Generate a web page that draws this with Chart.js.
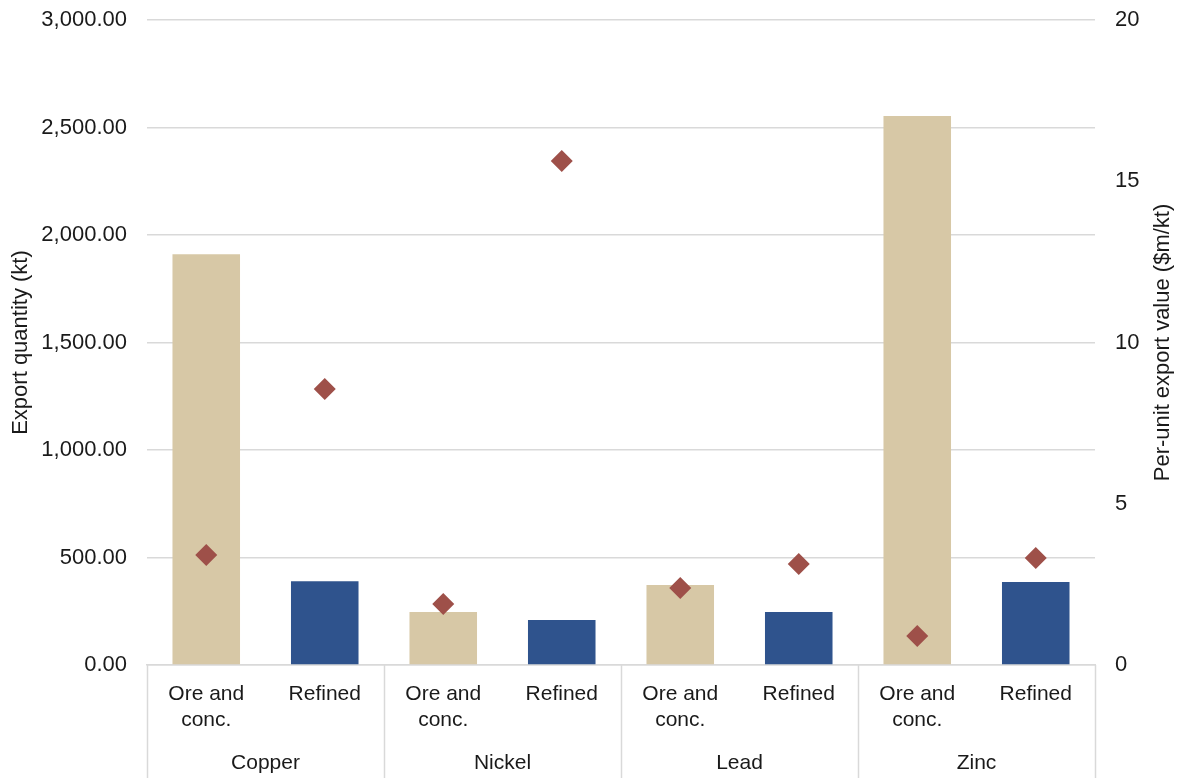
<!DOCTYPE html>
<html>
<head>
<meta charset="utf-8">
<script src="https://cdn.jsdelivr.net/npm/chart.js@4/dist/chart.umd.min.js"></script>
<style>
  html, body { margin: 0; padding: 0; background: #fff; }
  #wrap { width: 1179px; height: 778px; position: relative; }
</style>
</head>
<body>
<div id="wrap"><canvas id="chart"></canvas></div>
<script>
// metals (outer x level) and product form (inner x level)
const metals = ['Copper', 'Nickel', 'Lead', 'Zinc'];
const forms = [['Ore and', 'conc.'], 'Refined'];

// export quantity, kt (left axis)
const oreQuantity = [1910, 247, 372, 2553];
const refinedQuantity = [390, 209, 246, 386];

// per-unit export value, $m/kt (right axis)
const oreUnitValue = [3.41, 1.89, 2.39, 0.90];
const refinedUnitValue = [8.56, 15.63, 3.13, 3.32];

const leftTicks = [0, 500, 1000, 1500, 2000, 2500, 3000];
const rightTicks = [0, 5, 10, 15, 20];

// flatten metal x form into category slots
var labels = [];
var oreBars = [], refinedBars = [], unitValues = [];
metals.forEach(function (m, i) {
    labels.push(forms[0], forms[1]);
    oreBars.push(oreQuantity[i], null);
    refinedBars.push(null, refinedQuantity[i]);
    unitValues.push(oreUnitValue[i], refinedUnitValue[i]);
});

const FONT = "'Liberation Sans', Arial, Helvetica, sans-serif";
const TEXT = '#1a1a1a';
const GRID = '#d9d9d9';

// second x level: separators and metal names below the tick labels,
// plus the right axis title (reads bottom to top like the left one)
var groupAxis = {
    id: 'groupAxis',
    afterDraw: function (chart) {
        var ctx = chart.ctx;
        var xs = chart.scales.x;
        var step = xs.getPixelForValue(1) - xs.getPixelForValue(0);
        var top = chart.chartArea.bottom;
        var bottom = chart.height;
        ctx.save();
        ctx.strokeStyle = GRID;
        ctx.lineWidth = 1.5;
        for (var g = 0; g <= metals.length; g++) {
            var x = xs.getPixelForValue(g * 2) - step / 2;
            if (g === metals.length) x = xs.getPixelForValue(g * 2 - 1) + step / 2;
            ctx.beginPath();
            ctx.moveTo(Math.round(x) + 0.5, top);
            ctx.lineTo(Math.round(x) + 0.5, bottom);
            ctx.stroke();
        }
        ctx.fillStyle = TEXT;
        ctx.font = '21px ' + FONT;
        ctx.textAlign = 'center';
        ctx.textBaseline = 'middle';
        metals.forEach(function (m, i) {
            var cx = (xs.getPixelForValue(i * 2) + xs.getPixelForValue(i * 2 + 1)) / 2;
            ctx.fillText(m, cx, top + 98);
        });

        var y1 = chart.scales.y1;
        ctx.font = '22px ' + FONT;
        ctx.translate(y1.right - 16, (chart.chartArea.top + chart.chartArea.bottom) / 2);
        ctx.rotate(-Math.PI / 2);
        ctx.fillText('Per-unit export value ($m/kt)', 0, 0);
        ctx.restore();
    }
};

var config = {
    data: {
        labels: labels,
        datasets: [
            {
                type: 'line',
                label: 'Per-unit export value',
                data: unitValues,
                yAxisID: 'y1',
                showLine: false,
                pointStyle: 'rectRot',
                pointRadius: 11,
                pointHoverRadius: 11,
                pointBackgroundColor: '#9e5049',
                pointBorderColor: '#9e5049',
                pointBorderWidth: 0,
                order: 0
            },
            {
                type: 'bar',
                label: 'Ore and conc.',
                data: oreBars,
                backgroundColor: '#d7c8a6',
                yAxisID: 'y',
                skipNull: true,
                categoryPercentage: 1,
                barPercentage: 0.57,
                order: 1
            },
            {
                type: 'bar',
                label: 'Refined',
                data: refinedBars,
                backgroundColor: '#2f538d',
                yAxisID: 'y',
                skipNull: true,
                categoryPercentage: 1,
                barPercentage: 0.57,
                order: 1
            }
        ]
    },
    options: {
        responsive: true,
        maintainAspectRatio: false,
        animation: false,
        layout: {padding: {top: 20, right: 0, bottom: 0, left: 0}},
        plugins: {
            legend: {display: false},
            tooltip: {enabled: false}
        },
        scales: {
            x: {
                grid: {display: false},
                border: {display: true, color: GRID, width: 1.5},
                ticks: {
                    color: TEXT,
                    font: {family: FONT, size: 21, lineHeight: 1.25},
                    padding: 8,
                    maxRotation: 0,
                    autoSkip: false
                },
                afterFit: function (scale) { scale.height = 113; }
            },
            y: {
                position: 'left',
                min: 0,
                max: 3000,
                afterBuildTicks: function (scale) {
                    scale.ticks = leftTicks.map(function (v) { return {value: v}; });
                },
                grid: {color: GRID, lineWidth: 1.5, drawTicks: false},
                border: {display: false},
                ticks: {
                    color: TEXT,
                    font: {family: FONT, size: 22},
                    padding: 20,
                    callback: function (v) {
                        return Number(v).toLocaleString('en-US', {minimumFractionDigits: 2, maximumFractionDigits: 2});
                    }
                },
                title: {
                    display: true,
                    text: 'Export quantity (kt)',
                    color: TEXT,
                    font: {family: FONT, size: 22},
                    padding: {top: 8, bottom: 0}
                },
                afterFit: function (scale) {
                    scale.width = 147;
                    scale.paddingTop = 0;
                    scale.paddingBottom = 0;
                }
            },
            y1: {
                position: 'right',
                min: 0,
                max: 20,
                afterBuildTicks: function (scale) {
                    scale.ticks = rightTicks.map(function (v) { return {value: v}; });
                },
                grid: {display: false, drawTicks: false},
                border: {display: false},
                ticks: {
                    color: TEXT,
                    font: {family: FONT, size: 22},
                    padding: 20
                },
                afterFit: function (scale) {
                    scale.width = 84;
                    scale.paddingTop = 0;
                    scale.paddingBottom = 0;
                }
            }
        }
    },
    plugins: [groupAxis]
};

var ctx = document.getElementById('chart').getContext('2d');
window.chart = new Chart(ctx, config);
</script>
</body>
</html>
